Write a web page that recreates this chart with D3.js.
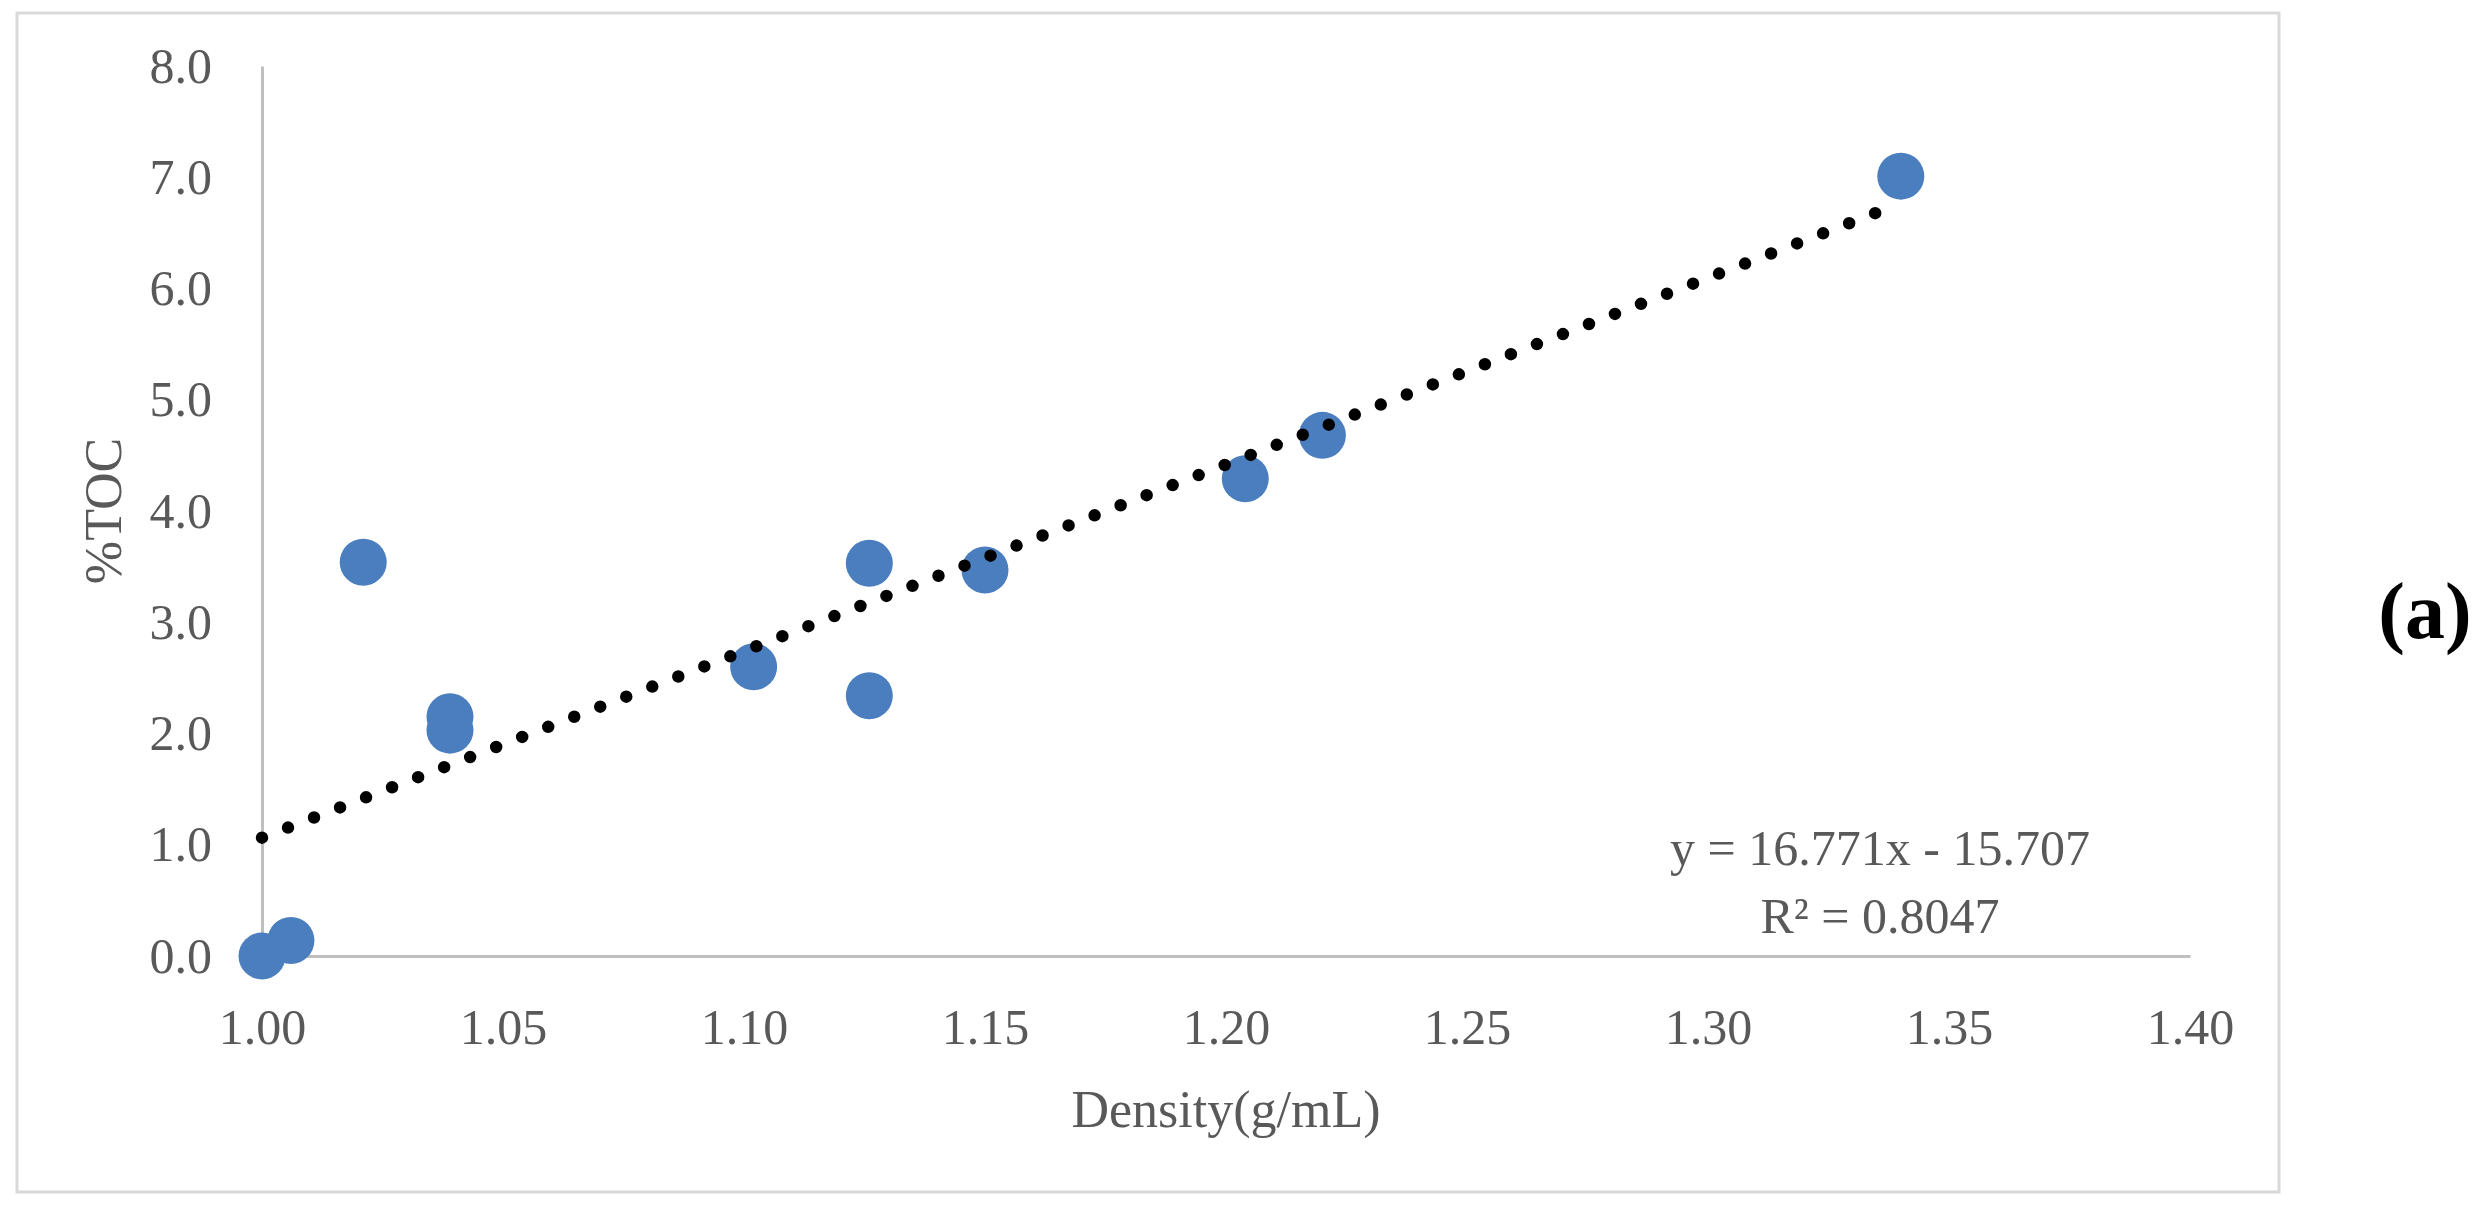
<!DOCTYPE html>
<html>
<head>
<meta charset="utf-8">
<script src="https://cdn.jsdelivr.net/npm/d3@7"></script>
<style>
  html, body { margin: 0; padding: 0; background: #fff; }
  svg { display: block; }
</style>
</head>
<body>
<svg id="chart" width="2482" height="1211"></svg>
<script>
// ---- data ----
const density = [1.000, 1.006, 1.021, 1.039, 1.039, 1.102, 1.126, 1.126, 1.150, 1.204, 1.220, 1.340];
const toc     = [0.00,  0.14,  3.54,  2.15,  2.03,  2.60,  3.53,  2.34,  3.47,  4.29,  4.68,  7.01];
const xTicks = [1.00, 1.05, 1.10, 1.15, 1.20, 1.25, 1.30, 1.35, 1.40];
const yTicks = [0, 1, 2, 3, 4, 5, 6, 7, 8];
const trendSlope = 16.771;
const trendIntercept = -15.707;
const trendLabels = ["y = 16.771x - 15.707", "R² = 0.8047"];
const xTitle = "Density(g/mL)";
const yTitle = "%TOC";
const panelLabel = "(a)";

(function () {
// ---- layout ----
const svg = d3.select("#chart");
const pLeft = 262, pRight = 2190, pTop = 66, pBottom = 956;
const x = d3.scaleLinear().domain([1.0, 1.4]).range([pLeft, pRight]);
const y = d3.scaleLinear().domain([0, 8]).range([pBottom, pTop]);
const font = "'Liberation Serif', 'Times New Roman', serif";
const textColor = "#595959";
const axisColor = "#bfbfbf";

// outer frame
svg.append("rect")
  .attr("x", 17).attr("y", 13).attr("width", 2262).attr("height", 1179)
  .attr("fill", "#fff").attr("stroke", "#d9d9d9").attr("stroke-width", 3);

// y axis
const gy = svg.append("g").attr("transform", `translate(${pLeft},0)`)
  .call(d3.axisLeft(y).tickValues(yTicks).tickFormat(d3.format(".1f")).tickSize(0).tickSizeOuter(0).tickPadding(50));
gy.select(".domain").attr("stroke", axisColor).attr("stroke-width", 3);
gy.selectAll("text").attr("font-family", font).attr("font-size", 50).attr("fill", textColor);

// x axis
const gx = svg.append("g").attr("transform", `translate(0,${pBottom})`)
  .call(d3.axisBottom(x).tickValues(xTicks).tickFormat(d3.format(".2f")).tickSize(0).tickSizeOuter(0).tickPadding(52));
gx.select(".domain").attr("stroke", axisColor).attr("stroke-width", 3);
gx.selectAll("text").attr("font-family", font).attr("font-size", 50).attr("fill", textColor);

// points
svg.append("g").selectAll("circle")
  .data(density.map((d, i) => ({ d, v: toc[i] })))
  .join("circle")
  .attr("cx", p => x(p.d)).attr("cy", p => y(p.v))
  .attr("r", 23.5)
  .attr("fill", "#4a7ebf");

// trend line (dotted)
const xMin = d3.min(density), xMax = d3.max(density);
const line = d3.line().x(p => x(p[0])).y(p => y(p[1]));
svg.append("path")
  .datum([[xMin, trendSlope * xMin + trendIntercept], [xMax, trendSlope * xMax + trendIntercept]])
  .attr("d", line)
  .attr("fill", "none")
  .attr("stroke", "#000")
  .attr("stroke-width", 12.5)
  .attr("stroke-linecap", "round")
  .attr("stroke-dasharray", "0 27.9");

// equation text
svg.append("g").selectAll("text")
  .data(trendLabels)
  .join("text")
  .attr("x", 1880).attr("y", (d, i) => 865 + i * 68)
  .attr("text-anchor", "middle")
  .attr("font-family", font).attr("font-size", 50).attr("fill", textColor)
  .text(d => d);

// axis titles
svg.append("text")
  .attr("x", (pLeft + pRight) / 2).attr("y", 1127)
  .attr("text-anchor", "middle")
  .attr("font-family", font).attr("font-size", 52).attr("fill", textColor)
  .text(xTitle);

svg.append("text")
  .attr("transform", `translate(121,${(pTop + pBottom) / 2}) rotate(-90)`)
  .attr("text-anchor", "middle")
  .attr("font-family", font).attr("font-size", 52).attr("fill", textColor)
  .text(yTitle);

// panel label
svg.append("text")
  .attr("x", 2425).attr("y", 638)
  .attr("text-anchor", "middle")
  .attr("font-family", font).attr("font-size", 80).attr("font-weight", "bold").attr("fill", "#000")
  .text(panelLabel);
})();
</script>
</body>
</html>
